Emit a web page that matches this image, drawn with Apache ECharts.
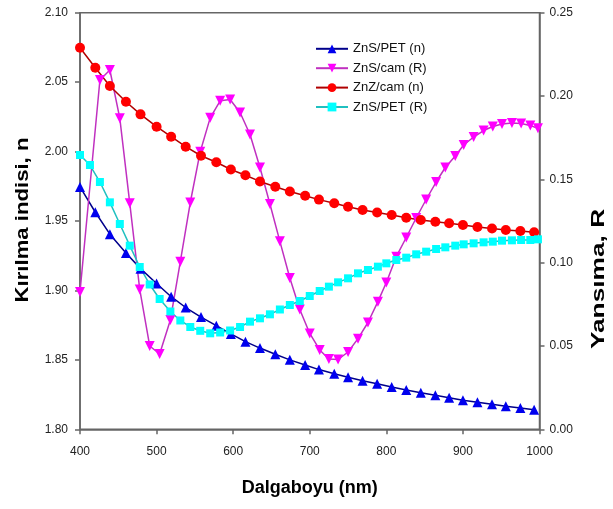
<!DOCTYPE html>
<html><head><meta charset="utf-8">
<script src="https://cdn.jsdelivr.net/npm/echarts@6/dist/echarts.min.js"></script>
<style>html,body{margin:0;padding:0;background:#fff}#c{width:613px;height:509px}</style>
</head><body><div id="c"></div>
<script>
const xN = [400,420,439,460,479,500,519,538,558,578,597,616,635,655,674,694,712,732,750,769,788,807,826,845,864,882,900,919,938,956,975,993];
const znsPetN = [1.9745,1.9563,1.9405,1.927,1.9157,1.905,1.8955,1.8877,1.8808,1.8746,1.8687,1.8631,1.8585,1.854,1.85,1.8463,1.843,1.84,1.8375,1.835,1.8328,1.8305,1.8283,1.8264,1.8245,1.8227,1.821,1.8195,1.818,1.8166,1.8153,1.814];
const znzCamN = [2.0748,2.0604,2.0472,2.0359,2.0268,2.0179,2.0107,2.0035,1.997,1.9923,1.9871,1.9829,1.9785,1.9747,1.9713,1.9682,1.9654,1.9628,1.9603,1.9579,1.9561,1.9543,1.9524,1.9507,1.9494,1.9484,1.9471,1.9457,1.9446,1.9435,1.9428,1.9419];
const xPetR = [400,413,426,439,452,465,478,491,504,518,531,544,557,570,583,596,609,622,635,648,661,674,687,700,713,725,737,750,763,776,789,800,813,826,839,852,865,877,890,901,914,927,939,951,964,976,988,998];
const znsPetR = [0.1646,0.1586,0.1484,0.1362,0.1232,0.1102,0.0974,0.0869,0.0782,0.0707,0.0653,0.0614,0.0591,0.0576,0.0581,0.0593,0.0614,0.0646,0.0666,0.0690,0.0719,0.0746,0.0770,0.0800,0.0830,0.0856,0.0882,0.0906,0.0936,0.0956,0.0976,0.0996,0.1016,0.1030,0.1050,0.1066,0.1082,0.1092,0.1102,0.1110,0.1116,0.1122,0.1126,0.1132,0.1134,0.1136,0.1136,0.1140];
const xCamR = [400,426,439,452,465,478,491,504,518,531,544,557,570,583,596,609,622,635,648,661,674,687,700,713,725,737,750,763,776,789,800,813,826,839,852,865,877,890,901,914,927,939,951,964,976,988,998];
const znsCamR = [0.0824,0.2096,0.2156,0.1866,0.1356,0.0839,0.0500,0.0452,0.0656,0.1006,0.1361,0.1666,0.1869,0.1971,0.1979,0.1901,0.1769,0.1571,0.1352,0.1128,0.0908,0.0719,0.0575,0.0476,0.0422,0.0419,0.0464,0.0544,0.0641,0.0766,0.0881,0.1036,0.1151,0.1268,0.1379,0.1484,0.1571,0.1640,0.1706,0.1754,0.1793,0.1817,0.1832,0.1838,0.1835,0.1823,0.1806];
const seriesNames = ['ZnS/PET (n)','ZnS/cam (R)','ZnZ/cam (n)','ZnS/PET (R)'];
const titles = {x: 'Dalgaboyu (nm)', yLeft: 'Kırılma indisi, n', yRight: 'Yansıma, R'};

const pair = (xs, ys) => xs.map((x, i) => [x, ys[i]]);
const FONT = 'Liberation Sans, Arial, sans-serif';
const axisLine = {show: true, lineStyle: {color: '#666', width: 1.5}};
const axisTick = {show: true, inside: false, length: 5, lineStyle: {color: '#666', width: 1.5}};
const titleText = (text, x, y, sx) => ({
  type: 'text', x, y, rotation: Math.PI / 2, scaleX: sx, scaleY: 1,
  style: {text, font: 'bold 18px ' + FONT, fill: '#000', align: 'center', verticalAlign: 'middle',
          textAlign: 'center', textVerticalAlign: 'middle'}
});

const chart = echarts.init(document.getElementById('c'), null, {renderer: 'canvas'});
chart.setOption({
  animation: false,
  backgroundColor: '#fff',
  grid: {left: 80, right: 73.5, top: 12.7, bottom: 79.7, show: true, borderColor: '#666', borderWidth: 1.5,
         containLabel: false, outerBoundsMode: 'none'},
  legend: {
    orient: 'vertical', left: 315, top: 42.3, padding: 0, itemWidth: 32, itemHeight: 11, itemGap: 6.4,
    textStyle: {fontFamily: FONT, fontSize: 13, color: '#111'},
    data: seriesNames
  },
  graphic: [titleText(titles.yLeft, 23, 220, 1.23), titleText(titles.yRight, 599, 279, 1.46)],
  xAxis: {
    type: 'value', min: 400, max: 1000, interval: 100,
    name: titles.x, nameLocation: 'middle', nameGap: 50,
    nameTextStyle: {fontFamily: FONT, fontSize: 18, fontWeight: 'bold', color: '#000'},
    axisLine, axisTick, splitLine: {show: false},
    axisLabel: {margin: 16, fontFamily: FONT, fontSize: 12, color: '#222', formatter: v => String(v)}
  },
  yAxis: [{
    type: 'value', min: 1.8, max: 2.1, interval: 0.05, position: 'left',
    axisLine, axisTick, splitLine: {show: false},
    axisLabel: {margin: 12, fontFamily: FONT, fontSize: 12, color: '#222', formatter: v => v.toFixed(2)}
  }, {
    type: 'value', min: 0, max: 0.25, interval: 0.05, position: 'right',
    axisLine, axisTick, splitLine: {show: false},
    axisLabel: {margin: 10, fontFamily: FONT, fontSize: 12, color: '#222', formatter: v => v.toFixed(2)}
  }],
  series: [{
    name: seriesNames[0], type: 'line', yAxisIndex: 0, data: pair(xN, znsPetN),
    symbol: 'triangle', symbolSize: 10,
    itemStyle: {color: '#0000ee'}, lineStyle: {color: '#00008b', width: 1.5}
  }, {
    name: seriesNames[1], type: 'line', yAxisIndex: 1, data: pair(xCamR, znsCamR),
    symbol: 'triangle', symbolRotate: 180, symbolSize: 10,
    itemStyle: {color: '#ff00ff'}, lineStyle: {color: '#c030c0', width: 1.5}
  }, {
    name: seriesNames[2], type: 'line', yAxisIndex: 0, data: pair(xN, znzCamN),
    symbol: 'circle', symbolSize: 10,
    itemStyle: {color: '#ff0000'}, lineStyle: {color: '#b00000', width: 1.5}
  }, {
    name: seriesNames[3], type: 'line', yAxisIndex: 1, data: pair(xPetR, znsPetR),
    symbol: 'rect', symbolSize: 8,
    itemStyle: {color: '#00ffff'}, lineStyle: {color: '#20c0c0', width: 1.5}
  }]
});
</script></body></html>
